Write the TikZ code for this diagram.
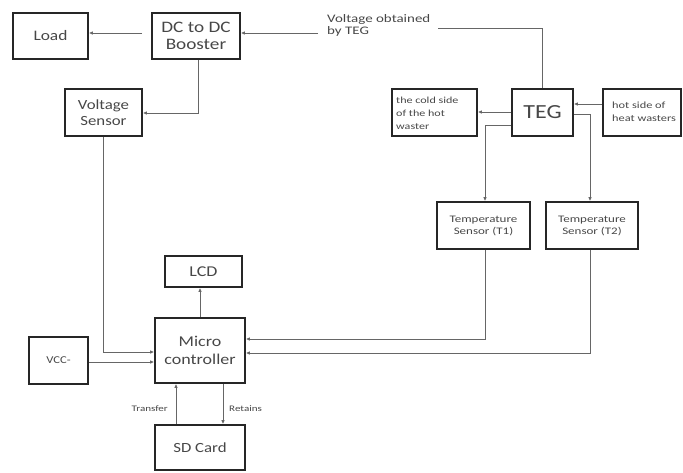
\documentclass[tikz,border=0pt]{standalone}
\usepackage{fontspec}
\setmainfont{Carlito}[FakeStretch=1.2]
\newfontfamily\wf{Carlito}[FakeStretch=1.3]
\usetikzlibrary{arrows.meta,calc}
\begin{document}
\begin{tikzpicture}[x=1pt,y=-1pt,
  blk/.style={draw=black!85,line width=1.6pt,inner sep=0pt,align=center,text=black!72},
  lbl/.style={text=black!72,inner sep=0pt,align=left},
  con/.style={draw=black!60,line width=0.9pt,-{Latex[length=4pt,width=3.5pt]}},
  ln/.style={draw=black!60,line width=0.9pt}]
\useasboundingbox (0,0) rectangle (683,472);
\newcommand{\bx}[6]{\node[blk,minimum width=#4-#2,minimum height=#5-#3,font=#6] (#1) at ({(#2+#4)/2},{(#3+#5)/2})}
\bx{load}{13}{13}{88}{59}{\fontsize{14.5}{15}\selectfont}{Load};
\bx{boost}{152}{13}{240}{59}{\fontsize{16}{17}\selectfont}{DC to DC\\Booster};
\bx{vs}{65}{89}{142}{136}{\fontsize{14}{15.5}\selectfont}{Voltage\\Sensor};
\bx{teg}{512}{89}{573}{136}{\fontsize{20}{21}\selectfont}{TEG};
\bx{cold}{392}{89}{477}{136}{}{};
\bx{hot}{603}{89}{681}{136}{}{};
\node[lbl,font=\wf\fontsize{9.3}{13}\selectfont,anchor=west] (coldt) at (396,113) {the cold side\\of the hot\\waster};
\node[lbl,font=\wf\fontsize{9.5}{13}\selectfont,anchor=west] (hott) at (612,112) {hot side of\\heat wasters};
\bx{t1}{437}{202}{530}{249}{\wf\fontsize{10}{12}\selectfont}{Temperature\\Sensor (T1)};
\bx{t2}{546}{202}{638}{249}{\wf\fontsize{10}{12}\selectfont}{Temperature\\Sensor (T2)};
\bx{lcd}{165}{256}{242}{287}{\fontsize{15}{16}\selectfont}{LCD};
\bx{mc}{155}{318}{245}{383}{\fontsize{15}{18}\selectfont}{Micro\\controller};
\bx{vcc}{29}{337}{88}{384}{\fontsize{10.5}{12}\selectfont}{VCC-};
\bx{sd}{155}{425}{245}{470}{\fontsize{14}{15}\selectfont}{SD Card};
\node[lbl,font=\wf\fontsize{11.5}{12.5}\selectfont,anchor=north west] (vlab) at (327,14) {Voltage obtained\\by TEG};
\coordinate (vlabr) at (438,28);
\coordinate (vlabl) at (318,33);
% connectors
\draw[con] ($(boost.west)+(-9,-3)$) -- (load.east |- 0,33);
\draw[con] (vlabl) -- (boost.east |- vlabl);
\draw[ln] (vlabr) -| (teg.north -| 542,0);
\draw[con] (boost.south -| 198,0) |- (vs.east |- 0,113);
\draw[con] (hot.west |- 0,104) -- (teg.east |- 0,104);
\draw[con] (teg.west |- 0,112) -- (cold.east |- 0,112);
\draw[con] (teg.west |- 0,125) -| (t1.north -| 485,0);
\draw[con] (teg.east |- 0,114) -| (t2.north -| 590,0);
\draw[con] (t1.south -| 485,0) |- (mc.east |- 0,339);
\draw[con] (t2.south -| 590,0) |- (mc.east |- 0,353);
\draw[con] (vs.south -| 103,0) |- (mc.west |- 0,352);
\draw[con] (vcc.east |- 0,362) -- (mc.west |- 0,362);
\draw[con] (mc.north -| 200,0) -- (lcd.south -| 200,0);
\draw[con] (sd.north -| 176,0) -- (mc.south -| 176,0);
\draw[con] (mc.south -| 223,0) -- (sd.north -| 223,0);
\node[lbl,font=\wf\fontsize{8.5}{10}\selectfont,anchor=east] (tr) at (168,409) {Transfer};
\node[lbl,font=\wf\fontsize{8.5}{10}\selectfont,anchor=west] (re) at (229,409) {Retains};
\end{tikzpicture}
\end{document}
